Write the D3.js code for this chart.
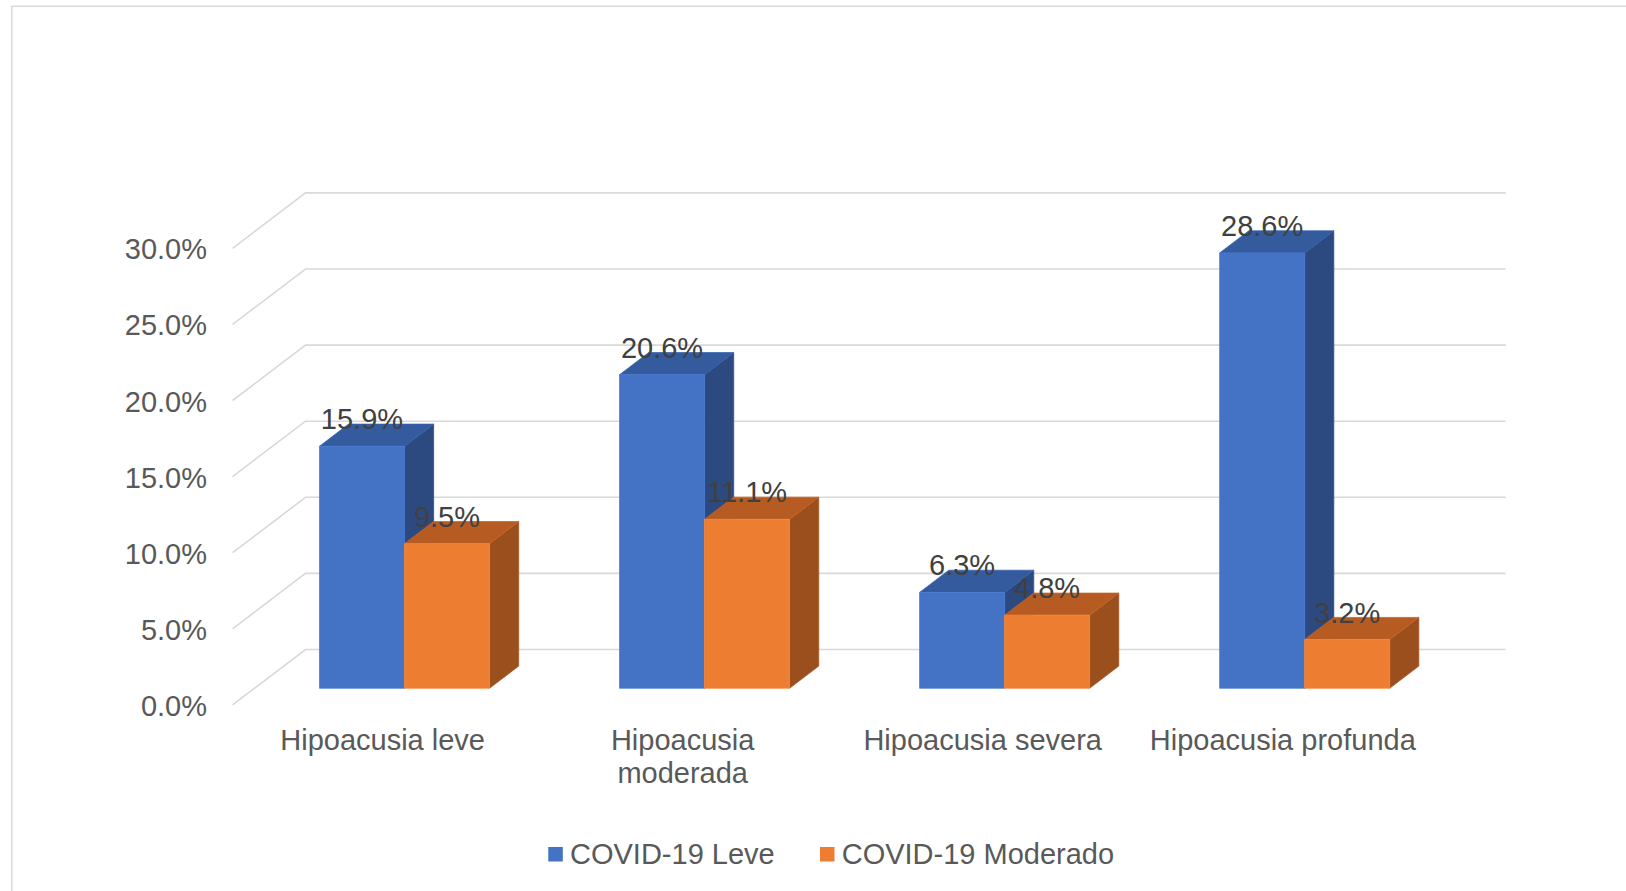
<!DOCTYPE html>
<html>
<head>
<meta charset="utf-8">
<script src="https://cdn.jsdelivr.net/npm/d3@7"></script>
<style>
  html, body { margin: 0; padding: 0; background: #fff; }
  svg { display: block; }
  text { font-family: "Liberation Sans", Arial, sans-serif; }
</style>
</head>
<body>
<svg id="chart" width="1626" height="891"></svg>
<script>
// Chart data
const categories = ["Hipoacusia leve", "Hipoacusia moderada", "Hipoacusia severa", "Hipoacusia profunda"];
const seriesNames = ["COVID-19 Leve", "COVID-19 Moderado"];
const leveValues = [15.9, 20.6, 6.3, 28.6];
const moderadoValues = [9.5, 11.1, 4.8, 3.2];
const yTicks = [0, 5, 10, 15, 20, 25, 30];

const seriesValues = [leveValues, moderadoValues];
const palette = [
  { front: "#4472C4", top: "#345B9E", side: "#2C4A80" },
  { front: "#ED7D31", top: "#B65C22", side: "#9A4F1D" }
];

const svg = d3.select("#chart");

// Outer chart frame
svg.append("rect")
  .attr("x", 11.75).attr("y", 6.25)
  .attr("width", 1700).attr("height", 1000)
  .attr("fill", "none").attr("stroke", "#d9d9d9").attr("stroke-width", 1.5);

// 3D projection: x measured on the back wall, depth d in [0 (front), 1 (back)]
const depth = { dx: 72.9, dy: -55.4 };
const backLeft = 305.5, backRight = 1505.7;

const y = d3.scaleLinear().domain([0, 30]).range([704.9, 248.3]);
const x = d3.scaleBand().domain(categories).range([backLeft, backRight])
  .paddingInner(130 / 300).paddingOuter(65 / 300);
const xs = d3.scaleBand().domain(seriesNames).range([0, x.bandwidth()]);

function proj(xb, v, d) {
  return [xb - (1 - d) * depth.dx, y(v) + d * depth.dy];
}

// Gridlines: back wall and left wall
const grid = svg.append("g").attr("stroke", "#d9d9d9").attr("stroke-width", 1.6).attr("fill", "none");
yTicks.forEach(t => {
  const a = proj(backLeft, t, 0), b = proj(backLeft, t, 1), c = proj(backRight, t, 1);
  grid.append("path").attr("d", d3.line()([a, b, c]));
});

// Value axis labels
const fmt = d3.format(".1f");
svg.append("g").selectAll("text").data(yTicks).join("text")
  .attr("x", 207).attr("y", d => y(d) + 11)
  .attr("text-anchor", "end").attr("font-size", 29).attr("fill", "#595959")
  .text(d => fmt(d) + "%");

// Bars
const d0 = 0.3, d1 = 0.7;
const bars = svg.append("g");
const labels = [];
categories.forEach((cat, ci) => {
  seriesNames.forEach((s, si) => {
    const v = seriesValues[si][ci];
    const xl = x(cat) + xs(s), xr = xl + xs.bandwidth();
    const col = palette[si];
    const fBL = proj(xl, 0, d0), fBR = proj(xr, 0, d0), fTL = proj(xl, v, d0), fTR = proj(xr, v, d0);
    const bTL = proj(xl, v, d1), bTR = proj(xr, v, d1), bBR = proj(xr, 0, d1);
    const poly = pts => "M" + pts.map(p => p.join(",")).join("L") + "Z";
    const g = bars.append("g").attr("stroke-width", 0.8).attr("stroke-linejoin", "round");
    g.append("path").attr("d", poly([fBR, fTR, bTR, bBR])).attr("fill", col.side).attr("stroke", d3.color(col.side).brighter(0.25));
    g.append("path").attr("d", poly([fTL, bTL, bTR, fTR])).attr("fill", col.top).attr("stroke", d3.color(col.top).brighter(0.25));
    g.append("path").attr("d", poly([fBL, fTL, fTR, fBR])).attr("fill", col.front).attr("stroke", d3.color(col.front).brighter(0.25));
    labels.push({ x: (fTL[0] + fTR[0]) / 2, y: fTL[1] - 17, v });
  });
});

// Data labels
svg.append("g").selectAll("text").data(labels).join("text")
  .attr("x", d => d.x).attr("y", d => d.y)
  .attr("text-anchor", "middle").attr("font-size", 29).attr("fill", "#404040")
  .text(d => fmt(d.v) + "%");

// Category labels (wrapped when wider than the available width)
const catG = svg.append("g").attr("font-size", 29).attr("fill", "#595959").attr("text-anchor", "middle");
categories.forEach(cat => {
  const cx = proj(x(cat) + x.bandwidth() / 2, 0, 0)[0];
  const t = catG.append("text").attr("x", cx).attr("y", 749.5);
  const words = cat.split(" ");
  let line = [], lineNo = 0;
  let tspan = t.append("tspan").attr("x", cx).attr("dy", 0);
  words.forEach(w => {
    line.push(w);
    tspan.text(line.join(" "));
    if (tspan.node().getComputedTextLength() > 272 && line.length > 1) {
      line.pop();
      tspan.text(line.join(" "));
      line = [w];
      lineNo++;
      tspan = t.append("tspan").attr("x", cx).attr("dy", 33.8).text(w);
    }
  });
});

// Legend
const legend = svg.append("g").attr("font-size", 29).attr("fill", "#595959");
let lx = 548.3;
seriesNames.forEach((s, si) => {
  legend.append("rect").attr("x", lx).attr("y", 847).attr("width", 14.5).attr("height", 14.5)
    .attr("fill", palette[si].front);
  const tx = legend.append("text").attr("x", lx + 21.7).attr("y", 864).text(s);
  lx = lx + 21.7 + tx.node().getComputedTextLength() + 45.3;
});
</script>
</body>
</html>
